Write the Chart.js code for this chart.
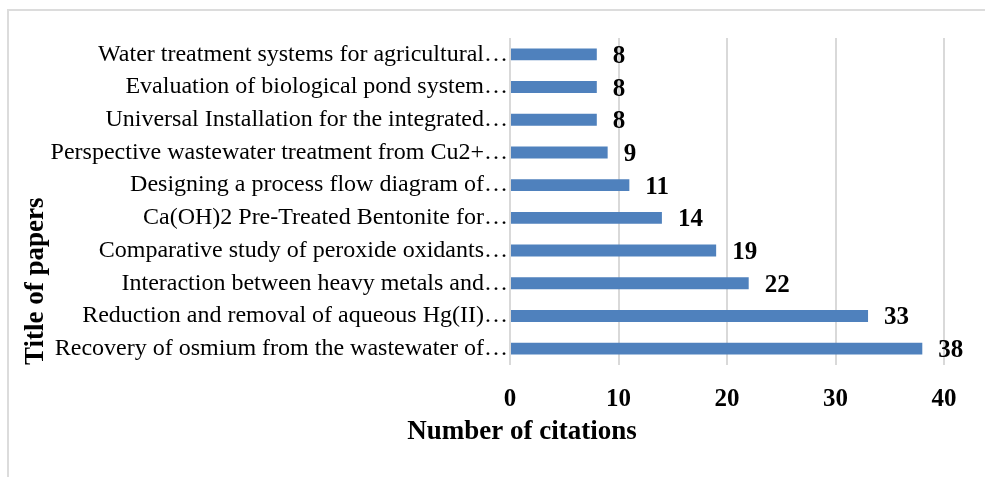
<!DOCTYPE html>
<html lang="en">
<head>
    <meta charset="UTF-8">
    <title>Number of citations per paper</title>
    <script src="https://cdn.jsdelivr.net/npm/chart.js"></script>
    <style>
        html, body {
            margin: 0;
            padding: 0;
            background: #ffffff;
        }
        .frame {
            position: absolute;
            left: 7px;
            top: 9px;
            width: 990px;
            height: 480px;
            border: 2px solid #dcdcdc;
        }
        .holder {
            position: absolute;
            left: 0;
            top: 0;
            width: 985px;
            height: 477px;
        }
    </style>
</head>
<body>
    <div class="frame"></div>
    <div class="holder">
        <canvas id="citeChart" width="985" height="477"></canvas>
    </div>

    <script>
        // paper titles, top to bottom as they appear
        const paperTitles = [
            'Water treatment systems for agricultural…',
            'Evaluation of biological pond system…',
            'Universal Installation for the integrated…',
            'Perspective wastewater treatment from Cu2+…',
            'Designing a process flow diagram of…',
            'Ca(OH)2 Pre-Treated Bentonite for…',
            'Comparative study of peroxide oxidants…',
            'Interaction between heavy metals and…',
            'Reduction and removal of aqueous Hg(II)…',
            'Recovery of osmium from the wastewater of…'
        ];
        const citations = [8, 8, 8, 9, 11, 14, 19, 22, 33, 38];
        const xTicks = [0, 10, 20, 30, 40];
        const xTitle = 'Number of citations';
        const yTitle = 'Title of papers';

        const serif = '"Liberation Serif", "Times New Roman", serif';

        // writes the value just past the end of each bar
        const valueLabels = {
            id: 'valueLabels',
            afterDatasetsDraw(chart) {
                const ctx = chart.ctx;
                const meta = chart.getDatasetMeta(0);
                ctx.save();
                ctx.font = 'bold 25px ' + serif;
                ctx.fillStyle = '#000000';
                ctx.textAlign = 'left';
                ctx.textBaseline = 'middle';
                meta.data.forEach((bar, i) => {
                    ctx.fillText(String(citations[i]), bar.x + 16, bar.y + 2);
                });
                ctx.restore();
            }
        };

        // x axis title sits under the left part of the plot, like the original
        const xAxisTitle = {
            id: 'xAxisTitle',
            afterDraw(chart) {
                const ctx = chart.ctx;
                const area = chart.chartArea;
                ctx.save();
                ctx.font = 'bold 27px ' + serif;
                ctx.fillStyle = '#000000';
                ctx.textAlign = 'center';
                ctx.textBaseline = 'middle';
                ctx.fillText(xTitle, area.left + 12, area.bottom + 67);
                ctx.restore();
            }
        };

        const ctx = document.getElementById('citeChart').getContext('2d');
        const citeChart = new Chart(ctx, {
            type: 'bar',
            data: {
                labels: paperTitles,
                datasets: [{
                    label: xTitle,
                    data: citations,
                    backgroundColor: '#4f81bd',
                    borderWidth: 0,
                    categoryPercentage: 0.365,
                    barPercentage: 1
                }]
            },
            options: {
                indexAxis: 'y',
                responsive: false,
                animation: false,
                layout: {
                    padding: { top: 38, right: 41, bottom: 20, left: 15 }
                },
                plugins: {
                    legend: { display: false },
                    tooltip: { enabled: false }
                },
                scales: {
                    x: {
                        min: xTicks[0],
                        max: xTicks[xTicks.length - 1],
                        afterBuildTicks(scale) {
                            scale.ticks = xTicks.map(v => ({ value: v }));
                        },
                        afterFit(scale) {
                            scale.height = 477 - 365 - 20;
                        },
                        grid: {
                            color: '#d9d9d9',
                            lineWidth: 2,
                            drawTicks: false
                        },
                        border: { display: false },
                        ticks: {
                            color: '#000000',
                            padding: 20,
                            font: { family: serif, size: 25, weight: 'bold' }
                        },
                        title: { display: false }
                    },
                    y: {
                        afterFit(scale) {
                            scale.width = 510 - 15;
                        },
                        grid: { display: false, drawTicks: false },
                        border: { display: false },
                        ticks: {
                            color: '#000000',
                            padding: 2,
                            autoSkip: false,
                            font: { family: serif, size: 24 }
                        },
                        title: {
                            display: true,
                            text: yTitle,
                            align: 'start',
                            color: '#000000',
                            padding: { top: 5, bottom: 0 },
                            font: { family: serif, size: 27, weight: 'bold' }
                        }
                    }
                }
            },
            plugins: [valueLabels, xAxisTitle]
        });
    </script>
</body>
</html>
